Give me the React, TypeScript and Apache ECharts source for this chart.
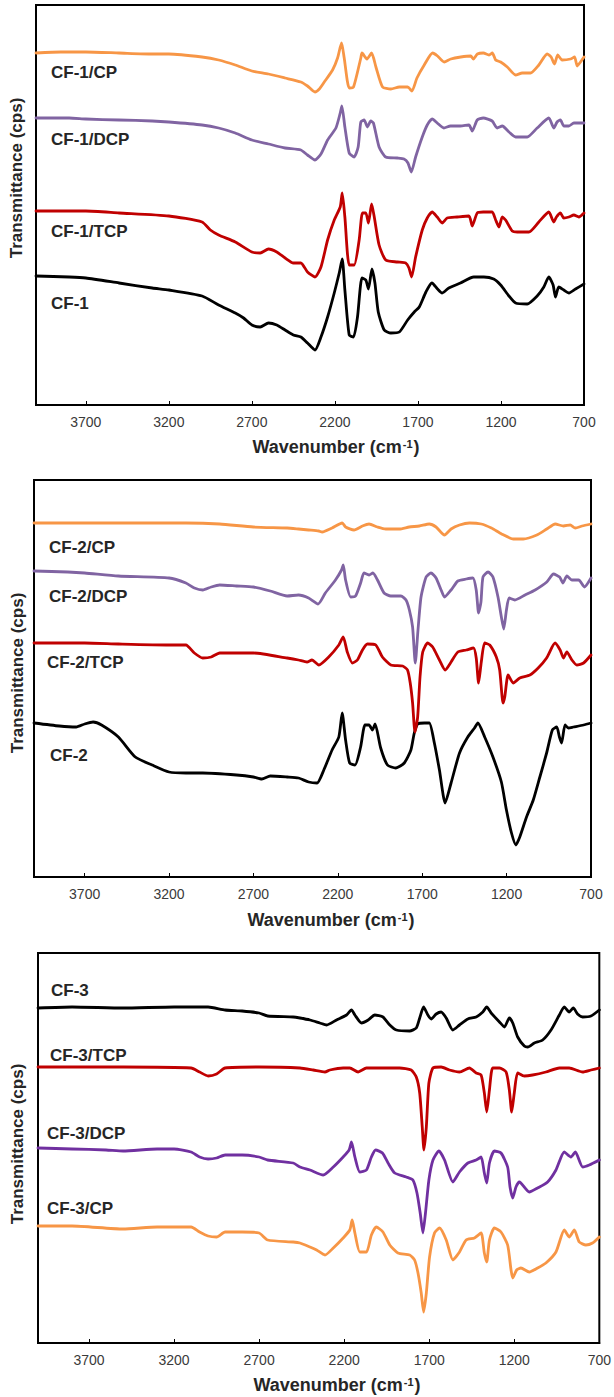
import React, { useEffect, useRef } from 'react';
import * as echarts from 'echarts';

// ---------- data ----------
const xTickValues = [3700, 3200, 2700, 2200, 1700, 1200, 700];
const yTitle = 'Transmittance (cps)';

// Panel 1 (values in a.u., wavenumber cm-1)
const cf1CP: [number, number][] = [
  [4000,352],[3850,353],[3700,353],[3500,352],[3300,351],[3200,351],[3000,348],[2900,345],[2800,340],[2700,334],[2600,331],[2500,327],[2405,323],[2365,319],[2320,313],[2294,316],[2264,323],[2214,335],[2184,347],[2160,362],[2144,347],[2114,317],[2088,318],[2044,347],[2037,352],[2007,346],[1979,352],[1953,338],[1913,318],[1863,316],[1812,318],[1762,318],[1736,314],[1706,327],[1662,340],[1612,352],[1582,349],[1542,343],[1502,346],[1442,348],[1382,349],[1366,346],[1342,351],[1306,352],[1272,350],[1252,352],[1232,345],[1202,343],[1162,338],[1112,330],[1072,332],[1022,332],[972,340],[922,351],[898,348],[878,341],[858,350],[832,345],[781,346],[757,348],[741,339],[721,343],[700,348]
];
const cf1DCP: [number, number][] = [
  [4000,287],[3800,287],[3700,286],[3500,285],[3300,284],[3200,283],[3000,280],[2900,277],[2800,272],[2700,265],[2600,261],[2500,257],[2405,255],[2365,250],[2320,245],[2284,251],[2244,265],[2194,277],[2168,292],[2158,299],[2140,278],[2114,252],[2084,248],[2060,258],[2044,283],[2024,285],[2004,278],[1984,284],[1968,282],[1934,258],[1894,248],[1824,247],[1784,246],[1760,242],[1740,233],[1714,248],[1674,268],[1644,280],[1614,286],[1584,282],[1544,277],[1504,279],[1444,279],[1393,280],[1373,274],[1343,285],[1307,287],[1253,284],[1223,277],[1192,279],[1152,273],[1112,268],[1042,268],[982,277],[912,287],[882,277],[862,283],[842,285],[822,279],[791,279],[761,282],[700,282]
];
const cf1TCP: [number, number][] = [
  [4000,194],[3700,194],[3500,192],[3200,189],[3000,183],[2950,175],[2900,170],[2800,163],[2700,153],[2650,152],[2600,156],[2550,153],[2500,147],[2450,142],[2405,142],[2365,133],[2320,128],[2284,138],[2244,165],[2204,185],[2168,198],[2156,212],[2140,188],[2114,140],[2084,140],[2054,165],[2034,192],[2014,192],[1998,182],[1979,201],[1963,188],[1934,160],[1894,145],[1824,143],[1774,142],[1754,137],[1738,128],[1714,148],[1674,175],[1644,187],[1614,193],[1584,188],[1554,182],[1524,187],[1464,188],[1393,189],[1373,179],[1343,192],[1307,193],[1253,193],[1232,185],[1212,178],[1192,188],[1172,185],[1132,174],[1102,173],[1032,173],[972,183],[912,193],[882,183],[866,188],[842,192],[822,187],[791,188],[761,190],[731,188],[700,192]
];
const cf1: [number, number][] = [
  [4000,129],[3800,128],[3700,127],[3500,122],[3300,117],[3200,115],[3000,109],[2900,100],[2800,92],[2750,87],[2700,80],[2650,78],[2600,82],[2550,80],[2500,75],[2450,70],[2405,68],[2365,62],[2320,55],[2284,68],[2244,88],[2204,112],[2174,132],[2156,146],[2140,115],[2114,70],[2088,68],[2064,88],[2037,127],[2014,125],[1998,116],[1977,136],[1959,122],[1939,93],[1903,75],[1863,72],[1812,73],[1762,85],[1722,93],[1692,98],[1652,113],[1616,122],[1582,116],[1554,112],[1514,117],[1444,122],[1364,128],[1303,128],[1244,126],[1202,120],[1152,109],[1112,102],[1042,101],[982,109],[942,118],[912,128],[886,120],[872,108],[852,118],[822,115],[791,112],[751,116],[700,121]
];

// Panel 2
const cf2CP: [number, number][] = [
  [4000,354],[3800,354],[3500,354],[3300,354],[3100,354],[2900,353],[2700,350],[2500,349],[2433,348],[2373,347],[2313,346],[2293,345],[2234,349],[2174,354],[2154,350],[2104,347],[2054,351],[2015,353],[1965,350],[1916,348],[1836,348],[1777,350],[1717,351],[1658,353],[1618,350],[1568,342],[1529,348],[1479,352],[1420,354],[1350,353],[1290,349],[1230,343],[1160,338],[1101,338],[1021,342],[962,348],[912,353],[863,351],[823,352],[793,349],[753,351],[700,353]
];
const cf2DCP: [number, number][] = [
  [4000,306],[3800,305],[3700,304],[3500,301],[3200,299],[3100,294],[3050,289],[3000,287],[2950,290],[2900,292],[2800,291],[2700,290],[2600,286],[2500,281],[2433,282],[2373,279],[2317,273],[2274,284],[2214,297],[2178,307],[2168,312],[2154,297],[2124,280],[2095,281],[2065,294],[2045,304],[2015,302],[1992,304],[1965,297],[1926,284],[1886,281],[1826,281],[1796,277],[1776,267],[1757,250],[1741,214],[1725,247],[1707,280],[1677,300],[1648,304],[1618,299],[1588,287],[1568,280],[1529,287],[1489,296],[1439,298],[1400,299],[1380,287],[1366,264],[1352,275],[1340,300],[1310,305],[1281,300],[1251,280],[1231,260],[1217,248],[1201,267],[1185,279],[1151,277],[1091,282],[1031,287],[962,295],[922,303],[886,300],[866,294],[843,301],[813,297],[773,297],[739,290],[700,299]
];
const cf2TCP: [number, number][] = [
  [4000,234],[3700,234],[3500,233],[3200,232],[3100,232],[3050,224],[3000,219],[2950,220],[2900,224],[2800,224],[2700,224],[2500,219],[2433,217],[2383,215],[2353,217],[2313,212],[2254,220],[2194,232],[2168,240],[2144,225],[2114,214],[2084,217],[2054,227],[2025,233],[1975,232],[1936,220],[1886,212],[1816,211],[1787,207],[1771,194],[1757,174],[1743,145],[1727,160],[1713,200],[1697,225],[1668,234],[1638,230],[1598,217],[1564,207],[1529,215],[1489,225],[1439,227],[1396,229],[1380,219],[1366,194],[1350,215],[1330,234],[1300,232],[1261,220],[1241,207],[1221,174],[1211,180],[1191,202],[1161,194],[1122,199],[1062,202],[1013,209],[963,219],[913,234],[883,227],[863,219],[843,225],[813,217],[784,212],[744,214],[700,222]
];
const cf2: [number, number][] = [
  [4000,154],[3850,151],[3750,150],[3700,153],[3650,155],[3600,152],[3500,140],[3400,120],[3300,112],[3200,105],[3100,104],[3000,104],[2800,102],[2700,100],[2650,98],[2600,101],[2500,100],[2433,99],[2373,95],[2323,94],[2283,107],[2234,127],[2194,140],[2174,164],[2154,137],[2130,114],[2098,112],[2065,130],[2039,152],[2015,152],[1995,147],[1979,153],[1946,129],[1906,112],[1856,109],[1806,114],[1767,127],[1747,144],[1727,153],[1687,154],[1658,154],[1628,134],[1598,107],[1564,74],[1529,94],[1479,124],[1430,140],[1390,149],[1370,154],[1330,140],[1281,120],[1231,95],[1201,67],[1171,44],[1145,32],[1122,40],[1082,60],[1042,77],[1003,100],[963,124],[929,147],[903,150],[887,140],[874,134],[854,152],[834,149],[804,150],[744,152],[700,154]
];

// Panel 3
const cf3: [number, number][] = [
  [4000,335],[3800,336],[3500,335],[3200,336],[3000,336],[2900,333],[2800,332],[2700,330],[2650,327],[2500,326],[2460,325],[2401,323],[2343,320],[2303,318],[2245,323],[2186,328],[2157,333],[2137,328],[2098,320],[2059,323],[2020,328],[1972,326],[1932,318],[1893,313],[1815,312],[1776,315],[1756,325],[1733,336],[1708,328],[1688,324],[1659,329],[1630,331],[1600,325],[1561,313],[1522,318],[1473,324],[1424,326],[1385,331],[1362,336],[1336,330],[1287,321],[1258,316],[1229,325],[1209,320],[1180,306],[1141,297],[1121,296],[1082,300],[1033,303],[984,313],[935,328],[906,336],[877,331],[853,335],[828,329],[798,326],[749,327],[700,333]
];
const cf3TCP: [number, number][] = [
  [4000,276],[3500,276],[3100,275],[3050,271],[3000,267],[2950,269],[2900,275],[2700,276],[2460,275],[2382,273],[2313,271],[2284,273],[2206,275],[2167,275],[2118,271],[2069,275],[2011,275],[1952,275],[1874,275],[1806,273],[1776,266],[1756,250],[1741,216],[1731,193],[1717,216],[1702,260],[1678,275],[1630,276],[1581,273],[1522,271],[1464,275],[1424,270],[1395,268],[1376,250],[1362,231],[1346,253],[1327,275],[1287,275],[1248,271],[1229,253],[1215,231],[1200,250],[1180,270],[1141,267],[1092,268],[1014,271],[935,275],[877,275],[798,271],[749,273],[700,275]
];
const cf3DCP: [number, number][] = [
  [4000,195],[3800,194],[3600,193],[3500,192],[3300,194],[3200,194],[3100,191],[3050,186],[3000,184],[2950,185],[2900,188],[2800,188],[2700,186],[2650,183],[2500,180],[2460,176],[2401,173],[2323,168],[2264,176],[2206,186],[2171,193],[2157,201],[2137,186],[2108,171],[2069,173],[2040,186],[2015,193],[1975,190],[1942,180],[1903,170],[1835,166],[1796,163],[1772,150],[1753,130],[1737,110],[1722,130],[1702,163],[1678,183],[1643,192],[1610,183],[1561,161],[1522,171],[1473,180],[1424,183],[1395,186],[1376,170],[1362,160],[1346,180],[1317,192],[1278,190],[1239,176],[1225,156],[1209,145],[1190,156],[1170,161],[1112,151],[1063,155],[1004,161],[955,173],[906,191],[867,186],[841,191],[798,176],[759,178],[700,183]
];
const cf3CP: [number, number][] = [
  [4000,117],[3800,117],[3500,114],[3300,116],[3100,116],[3050,111],[3000,107],[2950,106],[2900,111],[2800,111],[2700,110],[2650,103],[2500,101],[2460,100],[2401,96],[2362,93],[2313,88],[2264,95],[2206,105],[2167,113],[2153,123],[2137,110],[2108,91],[2069,91],[2040,108],[2011,116],[1972,111],[1932,98],[1884,90],[1815,88],[1786,83],[1766,70],[1747,50],[1733,31],[1717,50],[1698,86],[1669,110],[1639,115],[1600,103],[1561,83],[1522,91],[1483,103],[1434,105],[1395,110],[1376,90],[1362,81],[1346,103],[1317,115],[1278,111],[1239,98],[1219,73],[1209,65],[1186,73],[1161,75],[1112,71],[1063,75],[1014,80],[955,91],[906,113],[877,106],[847,113],[818,101],[779,98],[740,100],[700,106]
];

// ---------- styling ----------
const ORANGE = '#F79646';
const PURPLE = '#8064A2';
const PURPLE3 = '#7030A0';
const RED = '#C00000';
const BLACK = '#000000';
const FONT = '"Liberation Sans", Arial, sans-serif';
const TEXT = '#262626';

const panels = [
  {
    grid: { left: 36, top: 5, width: 548, height: 400 },
    yMax: 400,
    series: [
      { name: 'CF-1', data: cf1, color: BLACK },
      { name: 'CF-1/TCP', data: cf1TCP, color: RED },
      { name: 'CF-1/DCP', data: cf1DCP, color: PURPLE },
      { name: 'CF-1/CP', data: cf1CP, color: ORANGE },
    ],
    labels: [
      { text: 'CF-1/CP', x: 51, y: 72 },
      { text: 'CF-1/DCP', x: 51, y: 139 },
      { text: 'CF-1/TCP', x: 51, y: 231 },
      { text: 'CF-1', x: 51, y: 303 },
    ],
    yTitle: { x: 16, y: 178 },
    xTitle: { x: 336, y: 447 },
  },
  {
    grid: { left: 34, top: 480, width: 557, height: 397 },
    yMax: 397,
    series: [
      { name: 'CF-2', data: cf2, color: BLACK },
      { name: 'CF-2/TCP', data: cf2TCP, color: RED },
      { name: 'CF-2/DCP', data: cf2DCP, color: PURPLE },
      { name: 'CF-2/CP', data: cf2CP, color: ORANGE },
    ],
    labels: [
      { text: 'CF-2/CP', x: 49, y: 547 },
      { text: 'CF-2/DCP', x: 49, y: 596 },
      { text: 'CF-2/TCP', x: 47, y: 662 },
      { text: 'CF-2', x: 50, y: 755 },
    ],
    yTitle: { x: 17, y: 673 },
    xTitle: { x: 331, y: 920 },
  },
  {
    grid: { left: 38, top: 953, width: 563, height: 390 },
    yMax: 390,
    series: [
      { name: 'CF-3', data: cf3, color: BLACK },
      { name: 'CF-3/TCP', data: cf3TCP, color: RED },
      { name: 'CF-3/DCP', data: cf3DCP, color: PURPLE3 },
      { name: 'CF-3/CP', data: cf3CP, color: ORANGE },
    ],
    labels: [
      { text: 'CF-3', x: 51, y: 990 },
      { text: 'CF-3/TCP', x: 50, y: 1055 },
      { text: 'CF-3/DCP', x: 47, y: 1133 },
      { text: 'CF-3/CP', x: 47, y: 1208 },
    ],
    yTitle: { x: 17, y: 1144 },
    xTitle: { x: 337, y: 1385 },
  },
];

export default function App() {
  const ref = useRef<HTMLDivElement>(null);

  useEffect(() => {
    if (!ref.current) return;
    const chart = echarts.init(ref.current, null, { renderer: 'svg' });

    const grids = panels.map((p) => ({
      ...p.grid,
      show: true,
      borderColor: '#000',
      borderWidth: 2,
      backgroundColor: 'transparent',
      containLabel: false,
    }));

    const xAxes = panels.map((_, i) => ({
      type: 'value',
      gridIndex: i,
      min: 700,
      max: 4000,
      inverse: true,
      axisLine: { show: true, lineStyle: { color: '#000', width: 2 } },
      axisTick: {
        show: true,
        inside: true,
        length: 4,
        customValues: xTickValues,
        lineStyle: { color: '#000', width: 1 },
      },
      axisLabel: {
        show: true,
        customValues: xTickValues,
        formatter: (v: number) => String(v),
        margin: 10,
        fontSize: 14,
        color: '#3a3a3a',
        fontFamily: FONT,
      },
      splitLine: { show: false },
    }));

    const yAxes = panels.map((p, i) => ({
      type: 'value',
      gridIndex: i,
      min: 0,
      max: p.yMax,
      axisLine: { show: true, lineStyle: { color: '#000', width: 2 } },
      axisTick: { show: false },
      axisLabel: { show: false },
      splitLine: { show: false },
    }));

    const series: any[] = [];
    panels.forEach((p, i) => {
      p.series.forEach((s) => {
        series.push({
          type: 'line',
          name: s.name,
          xAxisIndex: i,
          yAxisIndex: i,
          data: s.data,
          showSymbol: false,
          smooth: 0.2,
          lineStyle: { color: s.color, width: 2.8, join: 'round', cap: 'round' },
          itemStyle: { color: s.color },
          silent: true,
        });
      });
    });

    const graphics: any[] = [];
    panels.forEach((p) => {
      p.labels.forEach((l) => {
        graphics.push({
          type: 'text',
          x: l.x,
          y: l.y,
          style: {
            text: l.text,
            fontSize: 17,
            fontWeight: 'bold',
            fontFamily: FONT,
            fill: TEXT,
            align: 'left',
            verticalAlign: 'middle',
          },
        });
      });
      graphics.push({
        type: 'text',
        x: p.yTitle.x,
        y: p.yTitle.y,
        rotation: Math.PI / 2,
        style: {
          text: yTitle,
          fontSize: 17,
          fontWeight: 'bold',
          fontFamily: FONT,
          fill: TEXT,
          align: 'center',
          verticalAlign: 'middle',
        },
      });
      graphics.push({
        type: 'text',
        x: p.xTitle.x,
        y: p.xTitle.y,
        style: {
          text: '{a|Wavenumber (cm}{s|-1}{a|)}',
          align: 'center',
          verticalAlign: 'middle',
          rich: {
            a: { fontSize: 18, fontWeight: 'bold', fontFamily: FONT, fill: TEXT, color: TEXT },
            s: { fontSize: 11, fontWeight: 'bold', fontFamily: FONT, fill: TEXT, color: TEXT, verticalAlign: 'top', padding: [0, 1, 6, 1] },
          },
        },
      });
    });

    chart.setOption({
      animation: false,
      backgroundColor: '#ffffff',
      grid: grids,
      xAxis: xAxes,
      yAxis: yAxes,
      series,
      graphic: graphics,
    });

    return () => chart.dispose();
  }, []);

  return (
    <div
      ref={ref}
      style={{ position: 'absolute', left: 0, top: 0, width: 614, height: 1397 }}
    />
  );
}
